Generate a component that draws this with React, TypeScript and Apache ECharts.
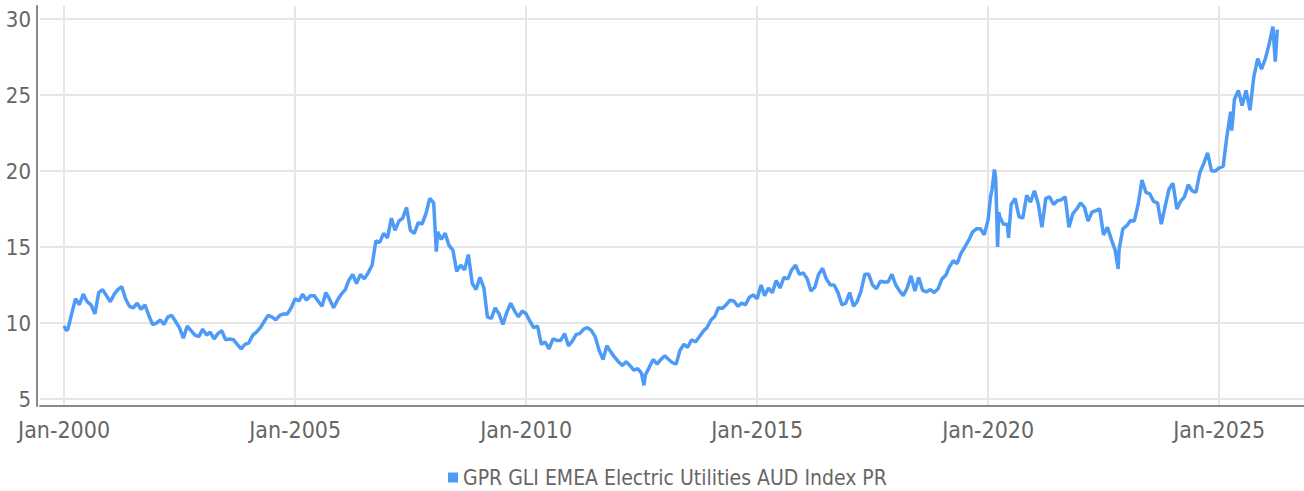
import React, { useEffect, useRef } from "react";
import * as echarts from "echarts";

const seriesName = "GPR GLI EMEA Electric Utilities AUD Index PR";

// Monthly values (first of each month)
const m2000to2004 = [
  9.8, 9.6, 10.6, 11.6, 11.2, 11.9, 11.4, 11.2, 10.6, 12.0, 12.2, 11.8,
  11.4, 11.9, 12.2, 12.4, 11.6, 11.1, 11.0, 11.3, 10.9, 11.2, 10.5, 9.9,
  10.0, 10.2, 9.9, 10.4, 10.5, 10.1, 9.7, 9.0, 9.8, 9.5, 9.2, 9.1,
  9.6, 9.2, 9.4, 8.95, 9.3, 9.5, 8.9, 8.95, 8.9, 8.6, 8.3, 8.6,
  8.7, 9.2, 9.4, 9.7, 10.1, 10.5, 10.4, 10.2, 10.5, 10.6, 10.6, 11.0,
];
const m2005to2009 = [
  11.6, 11.45, 11.9, 11.5, 11.8, 11.8, 11.45, 11.1, 12.0, 11.55, 11.0, 11.5,
  11.9, 12.2, 12.8, 13.2, 12.6, 13.2, 12.9, 13.3, 13.8, 15.4, 15.3, 15.9,
  15.6, 16.9, 16.1, 16.7, 16.9, 17.6, 16.1, 15.9, 16.6, 16.5, 17.2, 18.2,
  17.9, 16.0, 15.5, 15.9, 15.1, 14.8, 13.4, 13.8, 13.5, 14.5, 12.6, 12.2,
  13.0, 12.3, 10.4, 10.3, 11.0, 10.6, 9.9, 10.7, 11.3, 10.8, 10.4, 10.8,
];
const m2010to2014 = [
  10.6, 10.1, 9.7, 9.8, 8.6, 8.75, 8.3, 8.95, 8.85, 8.85, 9.3, 8.5,
  8.8, 9.25, 9.3, 9.6, 9.7, 9.5, 9.1, 8.2, 7.6, 8.5, 8.1, 7.75,
  7.45, 7.2, 7.45, 7.2, 6.9, 7.0, 6.7, 6.6, 7.1, 7.6, 7.3, 7.6,
  7.85, 7.6, 7.4, 7.3, 8.2, 8.6, 8.4, 8.9, 8.75, 9.1, 9.45, 9.7,
  10.2, 10.45, 11.0, 10.95, 11.2, 11.5, 11.45, 11.1, 11.3, 11.2, 11.7, 11.85,
];
const m2015to2019 = [
  11.6, 12.5, 11.8, 12.3, 12.0, 12.8, 12.3, 13.0, 12.9, 13.5, 13.8, 13.2,
  13.3, 12.9, 12.1, 12.35, 13.2, 13.6, 12.9, 12.5, 12.5, 12.0, 11.2, 11.3,
  12.0, 11.1, 11.4, 12.1, 13.2, 13.2, 12.5, 12.25, 12.75, 12.7, 12.7, 13.2,
  12.5, 12.1, 11.8, 12.3, 13.1, 12.1, 13.0, 12.15, 12.05, 12.2, 12.0, 12.25,
  12.9, 13.15, 13.7, 14.1, 13.9, 14.6, 15.0, 15.45, 16.0, 16.2, 16.2, 15.8,
];
const m2020to2024 = [
  16.8, 18.8, 19.5, 17.0, 16.5, 16.5, 17.8, 18.2, 17.0, 16.9, 18.4, 17.95,
  18.7, 17.8, 16.3, 18.2, 18.3, 17.8, 18.05, 18.1, 18.3, 16.3, 17.2, 17.5,
  17.9, 17.6, 16.7, 17.3, 17.4, 17.5, 15.8, 16.3, 15.5, 14.8, 14.8, 16.2,
  16.4, 16.75, 16.7, 17.8, 19.4, 18.6, 18.5, 18.0, 17.9, 16.5, 17.7, 18.8,
  19.2, 17.5, 18.0, 18.3, 19.1, 18.7, 18.6, 19.9, 20.5, 21.2, 20.0, 20.0,
];
const m2025to2026 = [
  20.2, 20.3, 22.2, 23.9, 24.7, 25.3, 24.3, 25.3, 24.0, 26.2, 27.4, 26.7,
  27.4, 28.4, 29.5,
];

// Intra-month spikes: [year, month(1-12), day, value]
const spikes: [number, number, number, number][] = [
  [2000, 1, 20, 9.5],
  [2008, 1, 22, 14.7],
  [2012, 7, 20, 5.9],
  [2020, 1, 20, 18.3],
  [2020, 2, 20, 20.1],
  [2020, 3, 16, 15.0],
  [2020, 3, 25, 17.3],
  [2020, 6, 10, 15.6],
  [2022, 10, 25, 13.55],
  [2025, 4, 10, 22.65],
  [2026, 3, 20, 27.2],
  [2026, 4, 5, 29.3],
];

const tickYears = [2000, 2005, 2010, 2015, 2020, 2025];

function buildData(): [number, number][] {
  const all = [
    ...m2000to2004,
    ...m2005to2009,
    ...m2010to2014,
    ...m2015to2019,
    ...m2020to2024,
    ...m2025to2026,
  ];
  const pts: [number, number][] = all.map((v, i) => [
    new Date(2000 + Math.floor(i / 12), i % 12, 1).getTime(),
    v,
  ]);
  spikes.forEach(([y, m, d, v]) => pts.push([new Date(y, m - 1, d).getTime(), v]));
  pts.sort((a, b) => a[0] - b[0]);
  return pts;
}

const FONT = "'Liberation Sans Narrow', 'DejaVu Sans Condensed', 'Roboto', sans-serif";

export default function App() {
  const ref = useRef<HTMLDivElement>(null);
  useEffect(() => {
    document.body.style.margin = "0";
    if (!ref.current) return;
    const chart = echarts.init(ref.current, undefined, { renderer: "svg" });
    const xMin = new Date(1999, 5, 25).getTime();
    const xMax = new Date(2026, 10, 2).getTime();
    const tickVals = tickYears.map((y) => new Date(y, 0, 1).getTime());
    chart.setOption({
      animation: false,
      backgroundColor: "#ffffff",
      textStyle: { fontFamily: FONT },
      legend: {
        show: true,
        left: 443,
        top: 462,
        icon: "rect",
        itemWidth: 10,
        itemHeight: 10,
        itemGap: 10,
        textStyle: { fontFamily: FONT, fontSize: 21, color: "#666666" },
        data: [seriesName],
      },
      grid: [
        { left: 40, right: 0, top: 19, bottom: 92 },
        { left: 40, right: 0, top: 6, bottom: 85 },
      ],
      xAxis: [
        { type: "value", gridIndex: 0, min: xMin, max: xMax, show: false, splitLine: { show: false } },
        {
          type: "value",
          gridIndex: 1,
          min: xMin,
          max: xMax,
          axisLine: { show: true, lineStyle: { color: "#888888", width: 2 } },
          axisTick: { show: false, customValues: tickVals },
          splitLine: { show: true, lineStyle: { color: "#e6e6e6", width: 2 } },
          axisLabel: {
            customValues: tickVals,
            fontFamily: FONT,
            fontSize: 23,
            color: "#666666",
            margin: 12,
            formatter: (v: number) => "Jan-" + new Date(v).getFullYear(),
          },
        },
      ],
      yAxis: [
        {
          type: "value",
          gridIndex: 0,
          min: 5,
          max: 30,
          interval: 5,
          axisLine: { show: false },
          axisTick: { show: false },
          splitLine: { show: true, lineStyle: { color: "#e6e6e6", width: 2 } },
          axisLabel: { fontFamily: FONT, fontSize: 22, color: "#666666", margin: 9 },
        },
        {
          type: "value",
          gridIndex: 1,
          min: 0,
          max: 1,
          offset: 3,
          axisLine: { show: true, lineStyle: { color: "#888888", width: 2 } },
          axisTick: { show: false },
          axisLabel: { show: false },
          splitLine: { show: false },
        },
      ],
      series: [
        {
          name: seriesName,
          type: "line",
          xAxisIndex: 0,
          yAxisIndex: 0,
          data: buildData(),
          showSymbol: false,
          symbol: "none",
          lineStyle: { color: "#4d9bf6", width: 3.5 },
          itemStyle: { color: "#4d9bf6" },
        },
      ],
    });
    return () => chart.dispose();
  }, []);
  return <div ref={ref} style={{ width: 1304, height: 491 }} />;
}
